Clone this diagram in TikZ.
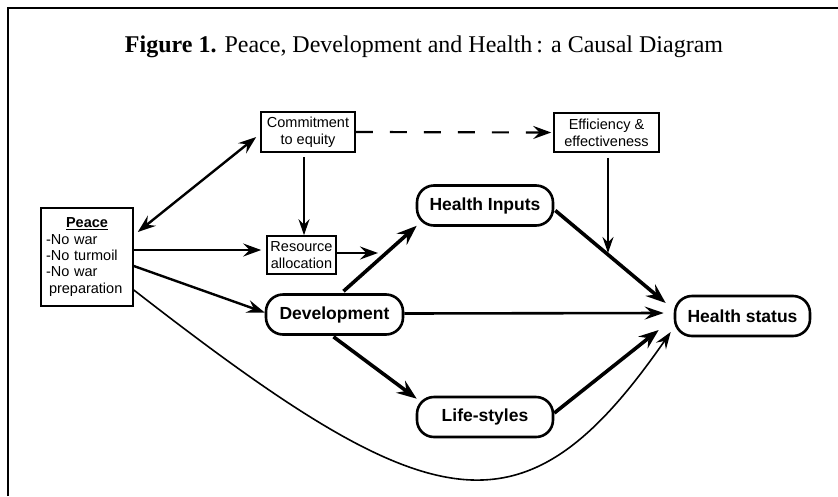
\documentclass[tikz,border=0pt]{standalone}
\usepackage{fontspec}
\setmainfont{Liberation Serif}
\newfontfamily\arialf{Liberation Sans}
\usetikzlibrary{arrows.meta,calc}
\begin{document}
\begin{tikzpicture}[x=1pt,y=-1pt,
  sbox/.style={draw,line width=1.6pt,font=\arialf\fontsize{14.5}{17}\selectfont,align=center,inner sep=0pt},
  rbox/.style={draw,line width=2.6pt,rounded corners=17pt,font=\arialf\bfseries\fontsize{17.5}{20}\selectfont,inner sep=0pt,minimum height=40pt},
  arrthick/.style={line width=3.6pt,-{Stealth[length=20pt,width=15pt,inset=7pt]}},
  arrmed/.style={line width=2.4pt,-{Stealth[length=18pt,width=13pt,inset=6.5pt]}},
  arrthin/.style={line width=1.8pt,-{Stealth[length=16pt,width=11pt,inset=5.5pt]}},
  frameline/.style={line width=2pt}
]
\useasboundingbox (0,0) rectangle (838,496);
% frame
\coordinate (fl) at (8,496);
\coordinate (ftl) at (8,8);
\coordinate (ftr) at (838,8);
\draw[frameline] (fl) -- (ftl) -- (ftr);
% title
\node (title) at (424,47) {\fontsize{24}{27}\selectfont\textbf{Figure 1.} Peace, Development and Health\,: a Causal Diagram};
% nodes
\node[sbox,minimum width=94pt,minimum height=40pt] (commit) at (308,132) {Commitment\\to equity};
\node[sbox,minimum width=105pt,minimum height=39pt] (eff) at (606.5,132.5) {Efficiency \&\\effectiveness};
\node[sbox,minimum width=69pt,minimum height=38pt] (res) at (301.5,255) {Resource\\allocation};
\node[sbox,minimum width=92pt,minimum height=98pt,align=left,text width=82pt,font=\arialf\fontsize{14.5}{16.3}\selectfont] (peace) at (87,257)
  {\makebox[82pt]{\underline{\textbf{Peace}}}\\-No war\\-No turmoil\\-No war\\\hspace*{3pt}preparation};
\node[rbox,minimum width=136pt] (hin) at (485,205.5) {Health Inputs};
\node[rbox,minimum width=137pt] (dev) at (334.5,314.5) {Development};
\node[rbox,minimum width=136pt] (life) at (485,417) {Life-styles};
\node[rbox,minimum width=135pt] (hs) at (742.5,316) {Health status};
% free ends
\coordinate (resend) at (378,253);
\coordinate (effend) at (608,253);
% connectors
\draw[line width=2.4pt,{Stealth[length=18pt,width=13pt,inset=6.5pt]}-{Stealth[length=18pt,width=13pt,inset=6.5pt]}]
  ($(peace.east)+(4,-25)$) -- ($(commit.west)+(-4,5)$);
\draw[arrmed] ($(peace.east)+(0,-7)$) -- ($(res.west)+(-5,-5)$);
\draw[arrmed] ($(peace.east)+(0,9)$) -- ($(dev.west)+(0,-2)$);
\draw[line width=1.6pt,-{Stealth[length=17pt,width=12pt,inset=6pt]}]
  ($(peace.east)+(0,33)$) .. controls (432,522) and (523,545) .. ($(hs.west)+(-3,16)$);
\draw[arrthin] ($(commit.south)+(-4,4)$) -- ($(res.north)+(2.5,0)$);
\draw[line width=2.2pt,dash pattern=on 17pt off 17pt,-{Stealth[length=18pt,width=13pt,inset=6.5pt]}]
  (commit.east) -- ($(eff.west)+(-2,0)$);
\draw[arrmed] ($(res.east)+(0,-2)$) -- (resend);
\draw[arrthin] ($(eff.south)+(1.5,5)$) -- (effend);
\draw[arrthick] ($(dev.north)+(9,-2)$) -- ($(hin.south west)+(1,-1)$);
\draw[arrthick] ($(hin.east)+(1,5)$) -- ($(hs.west)+(-8,-13)$);
\draw[line width=2.6pt,-{Stealth[length=19pt,width=13pt,inset=7pt]}] ($(dev.east)+(0,-1)$) -- ($(hs.west)+(-10,-3)$);
\draw[arrthick] ($(dev.south)+(-1,1)$) -- ($(life.north west)+(1,3)$);
\draw[arrthick] ($(life.east)+(0,-4)$) -- ($(hs.west)+(-15,14)$);
\end{tikzpicture}
\end{document}
